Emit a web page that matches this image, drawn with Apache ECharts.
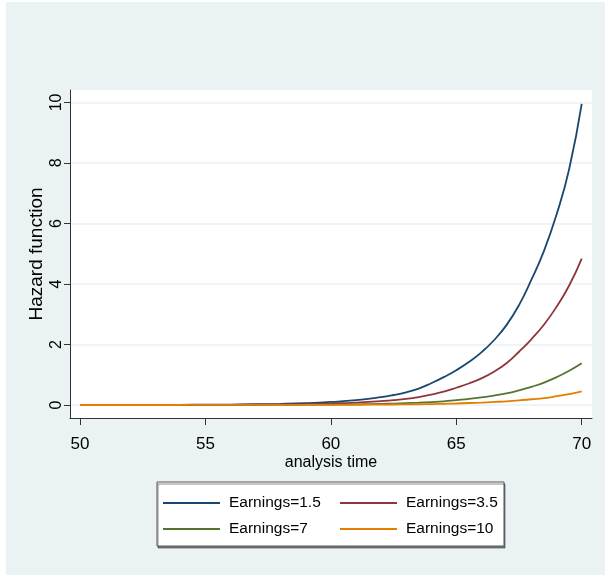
<!DOCTYPE html>
<html>
<head>
<meta charset="utf-8">
<script src="https://cdn.jsdelivr.net/npm/echarts@6/dist/echarts.min.js"></script>
<style>
html,body{margin:0;padding:0;background:#fff;}
#c{width:605px;height:575px;}
</style>
</head>
<body>
<div id="c"></div>
<script>
// analysis time (years)
var times = [50,51,52,53,54,55,56,57,58,59,60,61,62,62.5,63,63.5,64,64.5,65,65.5,66,66.5,67,67.5,68,68.5,69,69.5,70];
var seriesNames = ['Earnings=1.5','Earnings=3.5','Earnings=7','Earnings=10'];
var hazard15 = [0.001,0.002,0.003,0.004,0.006,0.010,0.015,0.024,0.037,0.06,0.10,0.16,0.26,0.33,0.42,0.54,0.72,0.92,1.15,1.42,1.74,2.14,2.64,3.3,4.15,5.1,6.3,7.8,9.95];
var hazard35 = [0.0005,0.001,0.0015,0.002,0.003,0.005,0.007,0.012,0.018,0.03,0.05,0.08,0.13,0.16,0.2,0.26,0.34,0.44,0.57,0.71,0.88,1.1,1.38,1.76,2.18,2.66,3.25,3.95,4.84];
var hazard7  = [0.0002,0.0003,0.0005,0.0008,0.001,0.0015,0.002,0.003,0.005,0.009,0.015,0.023,0.037,0.047,0.06,0.075,0.095,0.12,0.16,0.2,0.25,0.31,0.38,0.48,0.6,0.74,0.92,1.13,1.38];
var hazard10 = [0.0001,0.0001,0.0002,0.0003,0.0004,0.0006,0.001,0.0015,0.002,0.003,0.005,0.008,0.012,0.016,0.02,0.025,0.03,0.04,0.05,0.065,0.08,0.1,0.12,0.15,0.19,0.23,0.29,0.36,0.45];
var xTicks = [50,55,60,65,70];
var yTicks = [0,2,4,6,8,10];

var colors = ['#1a476f','#90353b','#55752f','#e37e00'];
var allValues = [hazard15, hazard35, hazard7, hazard10];
function pairs(vals){ return times.map(function(t,i){ return [t, vals[i]]; }); }

var font = '"Liberation Sans", Arial, sans-serif';

var chart = echarts.init(document.getElementById('c'), null, {renderer:'canvas'});
chart.setOption({
  backgroundColor: '#ffffff',
  animation: false,
  color: colors,
  graphic: [{
    type: 'rect', z: -10, silent: true,
    shape: {x: 6, y: 2, width: 599, height: 573},
    style: {fill: '#EAF2F3'}
  }],
  grid: {
    left: 70, right: 13, top: 90, bottom: 157,
    show: true, backgroundColor: '#ffffff', borderWidth: 0
  },
  xAxis: {
    type: 'value',
    min: 49.6, max: 70.41,
    name: 'analysis time',
    nameLocation: 'middle',
    nameGap: 37,
    nameMoveOverlap: false,
    nameTextStyle: {fontFamily: font, fontSize: 16, color: '#000'},
    axisLine: {show: true, onZero: false, lineStyle: {color: '#333', width: 1}},
    axisTick: {show: true, inside: false, length: 7, lineStyle: {color: '#333'}, customValues: xTicks},
    axisLabel: {fontFamily: font, fontSize: 17, color: '#000', margin: 18, customValues: xTicks},
    splitLine: {show: false}
  },
  yAxis: {
    type: 'value',
    min: -0.43, max: 10.41,
    name: 'Hazard function',
    nameLocation: 'middle',
    nameGap: 24,
    nameMoveOverlap: false,
    nameTextStyle: {fontFamily: font, fontSize: 19, color: '#000'},
    axisLine: {show: true, onZero: false, lineStyle: {color: '#333', width: 1}},
    axisTick: {show: true, inside: false, length: 6, lineStyle: {color: '#333'}, customValues: yTicks},
    axisLabel: {fontFamily: font, fontSize: 16, color: '#000', rotate: 90, margin: 5, customValues: yTicks},
    splitLine: {show: true, lineStyle: {color: '#EAF2F3', width: 1.5}}
  },
  legend: {
    left: 157, top: 482,
    orient: 'horizontal',
    width: 360,
    padding: [11, 6, 7, 6],
    itemGap: 6,
    itemWidth: 57,
    itemHeight: 2,
    icon: 'rect',
    backgroundColor: '#ffffff',
    borderColor: '#555',
    borderWidth: 1,
    shadowColor: 'rgba(0,0,0,0.45)',
    shadowBlur: 0,
    shadowOffsetX: 1,
    shadowOffsetY: 2,
    textStyle: {fontFamily: font, fontSize: 15.5, color: '#000', lineHeight: 20, width: 105, overflow: 'none', padding: [0,0,0,4]},
    data: [
      {name: seriesNames[0]},
      {name: seriesNames[1], textStyle: {width: 92}},
      {name: seriesNames[2]},
      {name: seriesNames[3], textStyle: {width: 92}}
    ]
  },
  series: seriesNames.map(function(n, i){
    return {
      name: n,
      type: 'line',
      data: pairs(allValues[i]),
      smooth: true,
      symbol: 'none',
      lineStyle: {width: 1.8, color: colors[i]},
      itemStyle: {color: colors[i]}
    };
  })
});
</script>
</body>
</html>
